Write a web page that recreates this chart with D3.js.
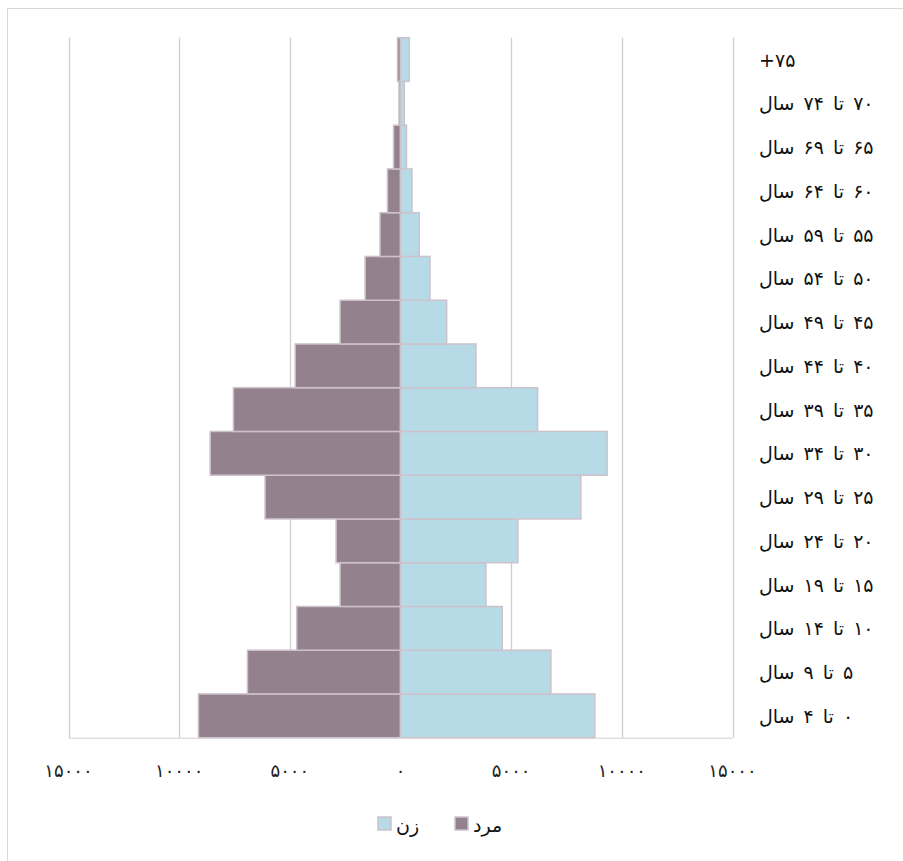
<!DOCTYPE html>
<html><head><meta charset="utf-8">
<script src="https://cdn.jsdelivr.net/npm/d3@7"></script>
<style>
html,body{margin:0;padding:0;background:#fff;}
svg{display:block;}
</style></head>
<body>
<svg id="chart" width="903" height="861"></svg>
<script>
// Age groups, bottom to top
const categories = ["۰ تا ۴ سال","۵ تا ۹ سال","۱۰ تا ۱۴ سال","۱۵ تا ۱۹ سال","۲۰ تا ۲۴ سال","۲۵ تا ۲۹ سال","۳۰ تا ۳۴ سال","۳۵ تا ۳۹ سال","۴۰ تا ۴۴ سال","۴۵ تا ۴۹ سال","۵۰ تا ۵۴ سال","۵۵ تا ۵۹ سال","۶۰ تا ۶۴ سال","۶۵ تا ۶۹ سال","۷۰ تا ۷۴ سال","۷۵+"];
const male   = [9130, 6915, 4690, 2730, 2910, 6120, 8600, 7550, 4760, 2730, 1600, 925, 590, 316, 70, 135];
const female = [8780, 6795, 4596, 3860, 5305, 8150, 9336, 6194, 3409, 2086, 1332, 849, 519, 271, 172, 397];
const tickValues = [-15000, -10000, -5000, 0, 5000, 10000, 15000];
const tickLabels = ["۱۵۰۰۰","۱۰۰۰۰","۵۰۰۰","۰","۵۰۰۰","۱۰۰۰۰","۱۵۰۰۰"];
const seriesNames = ["مرد","زن"];

const colors = {male:"#93818d", female:"#b6dbe6", stroke:"#cdc2cb", grid:"#d4ccd3", frame:"#d9d9d9"};

const svg = d3.select("#chart");
const x = d3.scaleLinear().domain([-15000, 15000]).range([68.5, 732.5]);
const y = d3.scaleBand().domain(categories.slice().reverse()).range([37.7, 737.7]).padding(0);

// frame
svg.append("rect").attr("x",7.5).attr("y",8.5).attr("width",905).attr("height",865)
  .attr("fill","none").attr("stroke",colors.frame).attr("stroke-width",1);

// grid
svg.append("g").selectAll("line").data(tickValues).join("line")
  .attr("x1",d=>Math.round(x(d))+0.5).attr("x2",d=>Math.round(x(d))+0.5)
  .attr("y1",y.range()[0]).attr("y2",y.range()[1])
  .attr("stroke",colors.grid).attr("stroke-width",1.3);

// bars
const g = svg.append("g");
g.selectAll("rect.m").data(categories).join("rect").attr("class","m")
  .attr("x",(d,i)=>x(-male[i])).attr("width",(d,i)=>x(0)-x(-male[i]))
  .attr("y",d=>y(d)).attr("height",y.bandwidth())
  .attr("fill",colors.male).attr("stroke",colors.stroke).attr("stroke-width",1.5);
g.selectAll("rect.f").data(categories).join("rect").attr("class","f")
  .attr("x",x(0)).attr("width",(d,i)=>x(female[i])-x(0))
  .attr("y",d=>y(d)).attr("height",y.bandwidth())
  .attr("fill",colors.female).attr("stroke",colors.stroke).attr("stroke-width",1.5);

// bottom line
svg.append("line").attr("x1",x(-15000)).attr("x2",x(15000))
  .attr("y1",y.range()[1]+0.5).attr("y2",y.range()[1]+0.5)
  .attr("stroke",colors.grid).attr("stroke-width",1);

// x tick labels
svg.append("g").selectAll("text").data(tickValues).join("text")
  .attr("x",d=>x(d)).attr("y",777)
  .attr("text-anchor","middle")
  .style("font-family","DejaVu Sans, sans-serif").style("font-size","18px")
  .style("letter-spacing","4px").attr("fill","#222")
  .text((d,i)=>tickLabels[i]);

// category labels
svg.append("g").selectAll("text").data(categories).join("text")
  .attr("x",759).attr("y",d=>y(d)+y.bandwidth()/2+7)
  .attr("direction","rtl").style("direction","rtl")
  .attr("text-anchor","end")
  .style("font-family","DejaVu Sans, sans-serif").style("font-size","19px")
  .style("word-spacing","3px")
  .attr("fill","#111")
  .text(d=>d);

// legend
const legend = svg.append("g");
const legendItems = [
  {name:seriesNames[1], color:colors.female, sx:378, tx:396},
  {name:seriesNames[0], color:colors.male, sx:455, tx:473}
];
legend.selectAll("rect").data(legendItems).join("rect")
  .attr("x",d=>d.sx).attr("y",817).attr("width",13).attr("height",13)
  .attr("fill",d=>d.color).attr("stroke",colors.stroke).attr("stroke-width",1.5);
legend.selectAll("text").data(legendItems).join("text")
  .attr("x",d=>d.tx).attr("y",832)
  .attr("text-anchor","start")
  .style("font-family","DejaVu Sans, sans-serif").style("font-size","19px")
  .attr("fill","#111")
  .text(d=>d.name);
</script>
</body></html>
